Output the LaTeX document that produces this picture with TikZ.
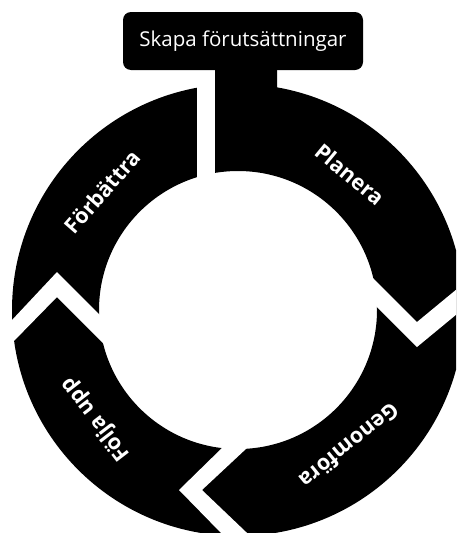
\documentclass[tikz,border=0pt]{standalone}
\usepackage{fontspec}
\setmainfont{Open Sans}
\usetikzlibrary{calc}
\begin{document}
\begin{tikzpicture}[x=1pt,y=-1pt,
  ringlabel/.style={text=white,font=\bfseries\fontsize{21.5}{24}\selectfont,inner sep=0pt},
  gapfill/.style={fill=white},
  boxstyle/.style={fill=black,rounded corners=8pt,text=white,inner sep=0pt,
    minimum width=240pt,minimum height=58pt,font=\fontsize{20.5}{24}\selectfont}]
\useasboundingbox (0,0) rectangle (456,533);
\clip (0,0) rectangle (456,533);
\coordinate (C) at (238,310);
% ring
\fill[black,even odd rule] (C) circle[radius=226pt] (C) circle[radius=139pt];
% gap Planera -> Genomfora (right)
\fill[gapfill] (350,255) -- (417,322) -- (480,270) -- (480,295) -- (417,347) -- (353,283) -- cycle;
% gap Genomfora -> Folja upp (bottom)
\fill[gapfill] (240.4,430) -- (179,490) -- (233.7,546) -- (260.7,546) -- (202,490) -- (266.3,430) -- cycle;
% gap Folja upp -> Forbattra (left)
\fill[gapfill] (-10,343.5) -- (57,272) -- (120,335) -- (120,360) -- (57,297) -- (-10,365.5) -- cycle;
% gap Forbattra -> Planera (top)
\fill[gapfill] (197,74) rectangle (215,182);
% stem
\fill[black,rounded corners=8pt] (215,55) rectangle (277,170);
% title box
\node[boxstyle] (box) at (243,41) {Skapa förutsättningar};
% labels
\node[ringlabel,rotate=-39.5] (planera) at ($(C)+(50.5:176pt)$) {Planera};
\node[ringlabel,rotate=-140.7] (genomfora) at ($(C)+(-50.7:176pt)$) {Genomföra};
\node[ringlabel,rotate=127.6] (folja) at ($(C)+(217.6:179pt)$) {Följa upp};
\node[ringlabel,rotate=49] (forbattra) at ($(C)+(139:180pt)$) {Förbättra};
\end{tikzpicture}
\end{document}
